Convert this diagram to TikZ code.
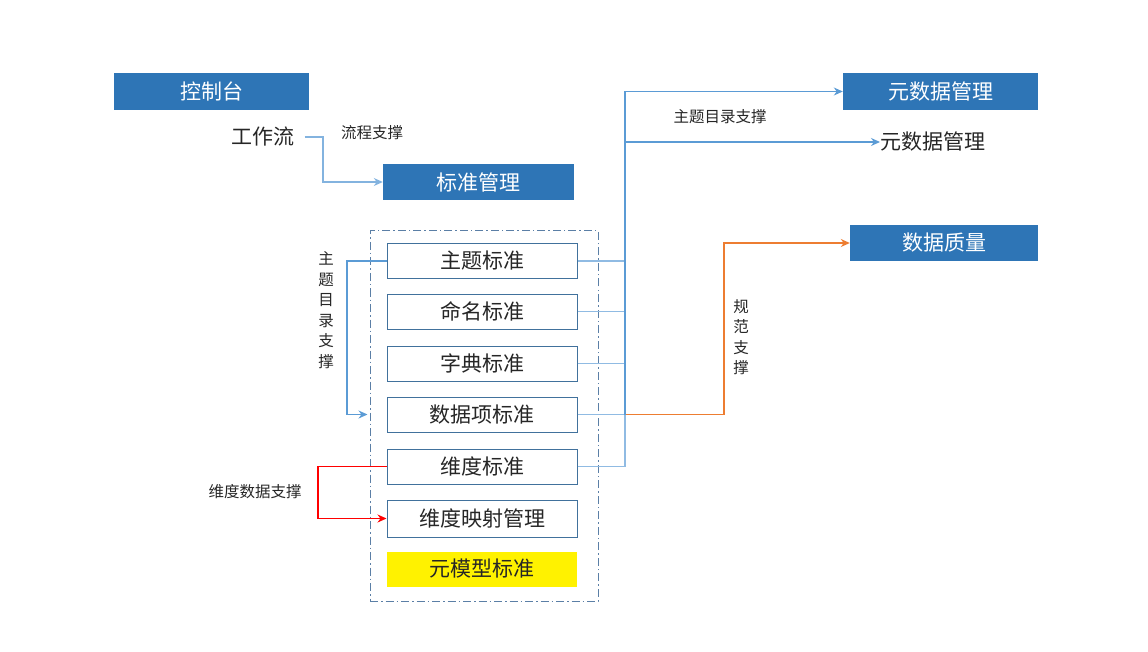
\documentclass[tikz,border=0pt]{standalone}
\usepackage{fontspec}
\setmainfont{Noto Sans CJK SC}
\usetikzlibrary{arrows.meta}
\definecolor{hdblue}{HTML}{2E75B6}
\definecolor{bxline}{HTML}{41719C}
\definecolor{contline}{HTML}{5B7FA6}
\definecolor{trunkblue}{HTML}{5B9BD5}
\definecolor{lightblue}{HTML}{9DC3E6}
\definecolor{orng}{HTML}{ED7D31}
\definecolor{txtgray}{HTML}{262626}
\tikzset{
  hdbox/.style={fill=hdblue, text=white, minimum width=195pt, minimum height=37pt, inner sep=0pt, font=\fontsize{21}{23}\selectfont},
  stdbox/.style={draw=bxline, line width=1pt, fill=white, text=txtgray, minimum width=190pt, minimum height=35pt, inner sep=0pt, font=\fontsize{21}{23}\selectfont},
  smalllbl/.style={text=txtgray, inner sep=0pt, font=\fontsize{15.5}{20}\selectfont},
  bigtxt/.style={text=txtgray, inner sep=0pt, font=\fontsize{21}{23}\selectfont},
  arr/.style={-{Stealth[length=9pt,width=8pt]}},
  blueline/.style={draw=trunkblue, line width=1.3pt},
  boxlink/.style={draw=lightblue!80!trunkblue, line width=1.8pt},
}
\begin{document}
\begin{tikzpicture}[x=1pt,y=-1pt]
\useasboundingbox (0,0) rectangle (1148,652);
% header boxes
\node[hdbox] (kzt) at (211.5,91.5) {控制台};
\node[hdbox, minimum width=191pt, minimum height=36pt] (bzgl) at (478.5,182) {标准管理};
\node[hdbox] (ysj) at (940.5,91.5) {元数据管理};
\node[hdbox, minimum width=188pt, minimum height=36pt] (sjzl) at (944,243) {数据质量};
% plain texts
\node[bigtxt] (gzl) at (263,137) {工作流};
\node[bigtxt, anchor=west] (ysj2) at (880,142) {元数据管理};
% container
\node[draw=contline, dash pattern=on 8pt off 3pt on 1.5pt off 3pt, line width=1pt, minimum width=228pt, minimum height=370pt, inner sep=0pt] (cont) at (484,416) {};
% standard boxes
\node[stdbox] (zt) at (482,261) {主题标准};
\node[stdbox] (mm) at (482,311.5) {命名标准};
\node[stdbox] (zd) at (482,363.5) {字典标准};
\node[stdbox] (dx) at (482,414.5) {数据项标准};
\node[stdbox] (wd) at (482,466.5) {维度标准};
\node[stdbox, minimum height=37pt] (wdys) at (482,518.5) {维度映射管理};
\node[stdbox, draw=none, fill=yellow] (ymx) at (482,569) {元模型标准};
% labels
\node[smalllbl] (lcl) at (372,133) {流程支撑};
\node[smalllbl] (ztl) at (720,117) {主题目录支撑};
\node[smalllbl] (wdl) at (255,492) {维度数据支撑};
\node[smalllbl, align=center, font=\fontsize{15.5}{20.5}\selectfont] (ztv) at (326,310) {主\\题\\目\\录\\支\\撑};
\node[smalllbl, align=center, font=\fontsize{15.5}{20.5}\selectfont] (gfv) at (741,337) {规\\范\\支\\撑};
% coordinates
\coordinate (ttop) at (625,91.5);
\coordinate (tjoin) at (625,414.5);
\coordinate (tbot) at (625,466.5);
% workflow -> 标准管理
\draw[blueline, draw=lightblue!60!trunkblue, arr] (gzl.east) ++(10,0) coordinate (gzs) -- (323,137) |- (bzgl.west);
% orange
\draw[draw=orng, line width=1.3pt, arr] (tjoin) -| (724,243) -- (sjzl.west);
% box links to trunk
\foreach \b in {zt,mm,zd,dx,wd}{
  \draw[boxlink] (\b.east) -- (\b.east -| ttop);
}
% trunk
\draw[draw=trunkblue, line width=2.2pt] (ttop) -- (tjoin);
\draw[boxlink] (tjoin) -- (tbot);
% trunk outputs
\draw[blueline, arr] (ttop) -- (ysj.west);
\draw[blueline, arr] (625,142) -- (ysj2.west);
% subject catalog support loop
\draw[blueline, arr] (zt.west) -- (347,261) |- ([xshift=-2pt]cont.west |- dx);
% red dimension support
\draw[draw=red, line width=1.3pt, arr] (wd.west) -- (318,466.5) |- (wdys.west);
\end{tikzpicture}
\end{document}
